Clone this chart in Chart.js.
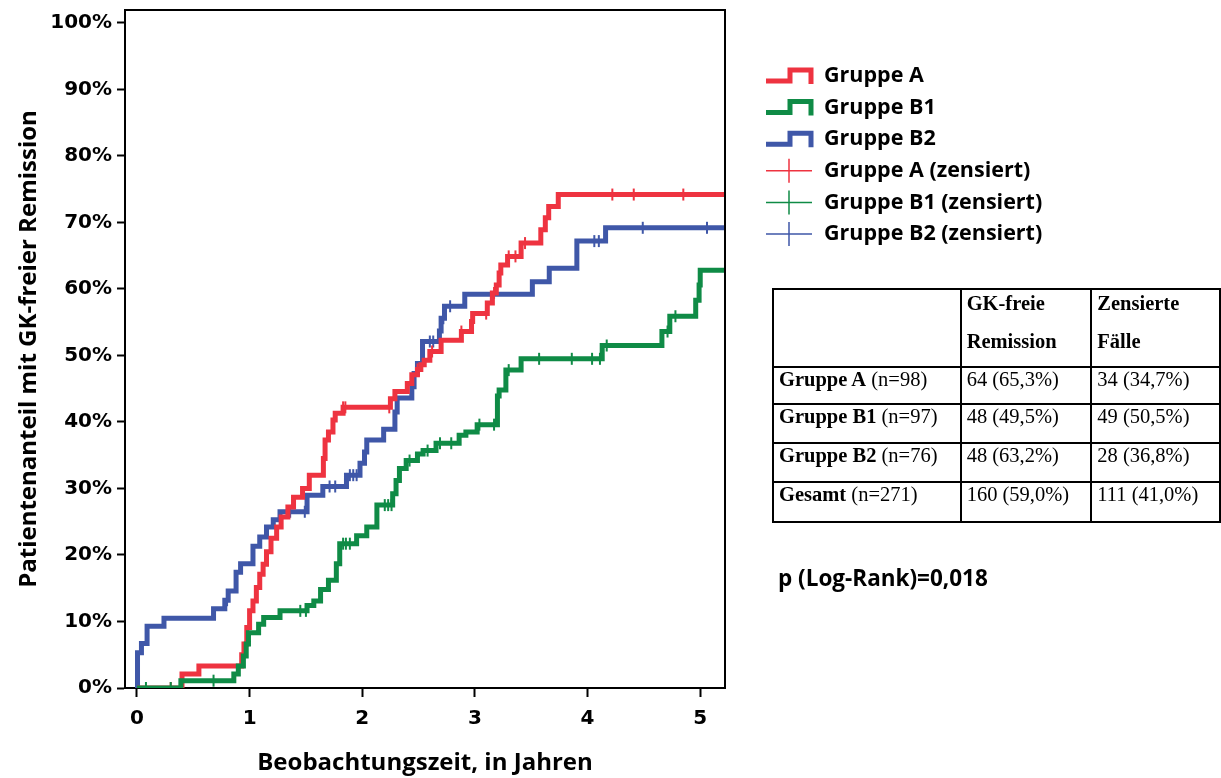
<!DOCTYPE html>
<html>
<head>
<meta charset="utf-8">
<script src="https://cdn.jsdelivr.net/npm/chart.js@4.4.1/dist/chart.umd.min.js"></script>
<style>
  html, body { margin: 0; padding: 0; background: #fff; }
  #wrap { position: relative; width: 1221px; height: 778px; overflow: hidden; }
  #c { position: absolute; left: 0; top: 0; }
  #tbl { position: absolute; left: 772px; top: 288px; border-collapse: collapse;
         font-family: 'Liberation Serif', 'Times New Roman', serif; font-size: 20.5px; color: #000; }
  #tbl td { border: 2px solid #000; padding: 0 0 0 5px; white-space: nowrap; vertical-align: top; line-height: 23px; }
  #tbl td.h { vertical-align: top; font-weight: bold; line-height: 38px; padding-top: 0; }
  #tbl td.h div { position: relative; top: -6px; }
  #pval { position: absolute; left: 778px; top: 562px; font-family: 'Open Sans', sans-serif;
          font-weight: bold; font-size: 22.5px; color: #000; }
</style>
</head>
<body>
<div id="wrap">
<canvas id="c" width="1221" height="778"></canvas>
<table id="tbl">
  <tr style="height:73px">
    <td class="h" style="width:181px"></td>
    <td class="h" style="width:124px"><div>GK-freie<br>Remission</div></td>
    <td class="h" style="width:122px"><div>Zensierte<br>Fälle</div></td>
  </tr>
  <tr style="height:37px"><td><b>Gruppe A</b> (n=98)</td><td>64 (65,3%)</td><td>34 (34,7%)</td></tr>
  <tr style="height:39px"><td><b>Gruppe B1</b> (n=97)</td><td>48 (49,5%)</td><td>49 (50,5%)</td></tr>
  <tr style="height:39px"><td><b>Gruppe B2</b> (n=76)</td><td>48 (63,2%)</td><td>28 (36,8%)</td></tr>
  <tr style="height:40px"><td><b>Gesamt</b> (n=271)</td><td>160 (59,0%)</td><td>111 (41,0%)</td></tr>
</table>
<div id="pval">p (Log-Rank)=0,018</div>
</div>
<script>
// ---- Data (years, percent) ----
const seriesNames = ['Gruppe A', 'Gruppe B1', 'Gruppe B2'];
const censorNames = ['Gruppe A (zensiert)', 'Gruppe B1 (zensiert)', 'Gruppe B2 (zensiert)'];
const xTicks = [0, 1, 2, 3, 4, 5];
const yTicks = [0, 10, 20, 30, 40, 50, 60, 70, 80, 90, 100];

const timesA  = [0, 0.40, 0.55, 0.93, 0.95, 0.975, 1.00, 1.03, 1.06, 1.09, 1.12, 1.15, 1.19, 1.24, 1.28, 1.34, 1.39, 1.47, 1.53, 1.655, 1.67, 1.70, 1.74, 1.76, 1.83, 2.25, 2.29, 2.40, 2.44, 2.49, 2.52, 2.55, 2.60, 2.70, 2.88, 2.97, 2.98, 3.11, 3.155, 3.19, 3.215, 3.23, 3.29, 3.41, 3.585, 3.625, 3.655, 3.74, 5.23];
const valuesA = [0, 2.1,  3.3,  5.0,  6.6,  9.1,   11.6, 13.1, 15.1, 17.1, 18.6, 20.5, 22.5, 24.2, 25.7, 27.2, 28.7, 30.0, 32.0, 34.5,  37.3, 38.5, 40.3, 41.3, 42.2, 43.5, 44.6, 45.8, 47.1, 47.9, 48.6, 49.3, 50.6, 52.3, 53.6, 55.1, 56.3, 57.9, 59.4,  60.6, 62.4,  63.6, 64.9, 66.9, 68.9,  70.7,  72.4,  74.2, 74.2];
const censorA = [0.30, 0.39, 1.83, 1.85, 2.24, 2.49, 2.62, 2.88, 3.10, 3.17, 3.30, 3.36, 3.445, 4.22, 4.41, 4.85];

const timesB1  = [0, 0.39, 0.86, 0.90, 0.945, 0.97, 0.99, 1.08, 1.125, 1.27, 1.51, 1.57, 1.63, 1.70, 1.77, 1.80, 1.95, 2.04, 2.13, 2.27, 2.30, 2.33, 2.39, 2.49, 2.54, 2.655, 2.86, 2.92, 3.02, 3.20, 3.215, 3.275, 3.41, 4.13, 4.66, 4.73, 4.96, 4.99, 5.00, 5.23];
const valuesB1 = [0, 1.1,  2.1,  3.3,  4.8,   6.6,  8.3,  9.6,  10.6,  11.6, 12.4, 13.1, 14.8, 16.2, 18.7, 21.7, 22.9, 24.2, 27.5, 29.2, 31.2, 33.0, 34.2, 35.2, 35.7, 36.8,  38.0, 38.5, 39.6, 43.9, 44.8,  47.8,  49.5, 51.5, 53.6, 55.9, 58.3, 60.6, 62.8, 62.8];
const censorB1 = [0.08, 0.30, 0.68, 1.45, 1.50, 1.83, 1.855, 1.89, 2.20, 2.23, 2.26, 2.42, 2.58, 2.69, 2.79, 3.04, 3.17, 3.30, 3.57, 3.86, 4.04, 4.11, 4.17, 4.71, 4.78];

const timesB2  = [0, 0.005, 0.04, 0.09, 0.24, 0.68, 0.78, 0.81, 0.88, 0.92, 1.03, 1.09, 1.15, 1.21, 1.27, 1.51, 1.65, 1.86, 1.98, 2.02, 2.04, 2.19, 2.29, 2.31, 2.44, 2.46, 2.49, 2.535, 2.685, 2.70, 2.73, 2.91, 3.51, 3.66, 3.905, 4.16, 5.23];
const valuesB2 = [0, 5.3,   6.7,  9.3,  10.5, 11.9, 13.2, 14.6, 17.4, 18.7, 21.3, 22.7, 24.2, 25.3, 26.5, 29.0, 30.3, 32.0, 33.8, 35.5, 37.3, 38.9, 41.5, 43.6, 45.3, 47.3, 48.8, 52.1,  53.7,  55.6, 57.4, 59.2, 61.1, 63.1, 67.2,  69.2, 69.2];
const censorB2 = [0.80, 1.36, 1.49, 1.71, 1.76, 1.89, 1.92, 1.95, 2.60, 2.63, 2.72, 2.78, 4.06, 4.10, 4.49, 5.06];

const colors = ['#ee3340', '#0f8b46', '#3f57a8'];

// ---- helpers ----
function stepPoints(ts, vs) { return ts.map((t, i) => ({x: t, y: vs[i]})); }
function valueAt(ts, vs, t) {
  let v = vs[0];
  for (let i = 0; i < ts.length; i++) { if (ts[i] <= t) v = vs[i]; }
  return v;
}
function censorPoints(cs, ts, vs) { return cs.map(t => ({x: t, y: valueAt(ts, vs, t)})); }

const groups = [
  {t: timesA, v: valuesA, c: censorA},
  {t: timesB1, v: valuesB1, c: censorB1},
  {t: timesB2, v: valuesB2, c: censorB2}
];
const drawOrder = [2, 1, 3];

const datasets = [];
groups.forEach((g, i) => {
  datasets.push({
    type: 'line', label: seriesNames[i], data: stepPoints(g.t, g.v),
    stepped: true, borderColor: colors[i], borderWidth: 5, pointRadius: 0,
    fill: false, borderCapStyle: 'butt', borderJoinStyle: 'miter', order: drawOrder[i]
  });
});
groups.forEach((g, i) => {
  datasets.push({
    type: 'line', label: censorNames[i], data: censorPoints(g.c, g.t, g.v),
    showLine: false, pointStyle: 'line', rotation: 90, pointRadius: 6,
    pointBorderWidth: 2, pointBorderColor: colors[i], pointBackgroundColor: colors[i],
    borderColor: colors[i], order: drawOrder[i] - 0.5
  });
});

const framePlugin = {
  id: 'frame',
  afterDatasetsDraw(chart) {
    const {ctx, chartArea: a} = chart;
    ctx.save();
    ctx.strokeStyle = '#000'; ctx.lineWidth = 2;
    ctx.beginPath();
    ctx.moveTo(a.left, a.top); ctx.lineTo(a.right, a.top); ctx.lineTo(a.right, a.bottom);
    ctx.stroke();
    ctx.restore();
  }
};

const legendPlugin = {
  id: 'customLegend',
  afterDraw(chart) {
    const ctx = chart.ctx;
    const x0 = 766, xText = 824, y0 = 76, dy = 31.6;
    ctx.save();
    ctx.font = 'bold 21.5px "Open Sans"';
    ctx.textBaseline = 'middle';
    ctx.fillStyle = '#000';
    for (let i = 0; i < 6; i++) {
      const y = y0 + i * dy;
      const col = colors[i % 3];
      ctx.strokeStyle = col;
      if (i < 3) {
        ctx.lineWidth = 5; ctx.lineJoin = 'miter'; ctx.lineCap = 'butt';
        ctx.beginPath();
        ctx.moveTo(x0, y + 5); ctx.lineTo(x0 + 24, y + 5); ctx.lineTo(x0 + 24, y - 6);
        ctx.lineTo(x0 + 45, y - 6); ctx.lineTo(x0 + 45, y + 8);
        ctx.stroke();
      } else {
        ctx.lineWidth = 1.5;
        ctx.beginPath();
        ctx.moveTo(x0, y); ctx.lineTo(x0 + 46, y);
        ctx.moveTo(x0 + 23, y - 12); ctx.lineTo(x0 + 23, y + 12);
        ctx.stroke();
      }
      ctx.fillText(i < 3 ? seriesNames[i] : censorNames[i - 3], xText, y);
    }
    ctx.restore();
  }
};

new Chart(document.getElementById('c'), {
  type: 'line',
  data: { datasets },
  plugins: [framePlugin, legendPlugin],
  options: {
    responsive: false, animation: false, devicePixelRatio: 1,
    layout: { padding: { left: 0, top: 10, right: 1221 - 725, bottom: 0 } },
    plugins: { legend: { display: false }, tooltip: { enabled: false } },
    scales: {
      x: {
        type: 'linear', min: -0.106, max: 5.22,
        afterFit(s) { s.height = 90; s.paddingLeft = 0; s.paddingRight = 0; },
        afterBuildTicks(s) { s.ticks = xTicks.map(v => ({value: v})); },
        ticks: { color: '#000', font: { family: 'DejaVu Sans', weight: 'bold', size: 20 }, padding: 10, maxRotation: 0 },
        grid: { drawOnChartArea: false, drawTicks: true, tickLength: 9, tickColor: '#000', tickWidth: 2 },
        border: { color: '#000', width: 2 },
        title: { display: true, text: 'Beobachtungszeit, in Jahren', color: '#000',
                 font: { family: 'Open Sans', weight: 'bold', size: 24 }, padding: { top: 1, bottom: 0 } }
      },
      y: {
        type: 'linear', min: 0, max: 101.95,
        afterFit(s) { s.width = 125; s.paddingTop = 0; s.paddingBottom = 0; },
        afterBuildTicks(s) { s.ticks = yTicks.map(v => ({value: v})); },
        ticks: { color: '#000', font: { family: 'DejaVu Sans', weight: 'bold', size: 20 }, padding: 5,
                 callback: v => v + '%' },
        grid: { drawOnChartArea: false, drawTicks: true, tickLength: 8, tickColor: '#000', tickWidth: 2 },
        border: { color: '#000', width: 2 },
        title: { display: true, text: 'Patientenanteil mit GK-freier Remission', color: '#000',
                 font: { family: 'Open Sans', weight: 'bold', size: 24 }, padding: { top: 15, bottom: 0 } }
      }
    }
  }
});
</script>
</body>
</html>
